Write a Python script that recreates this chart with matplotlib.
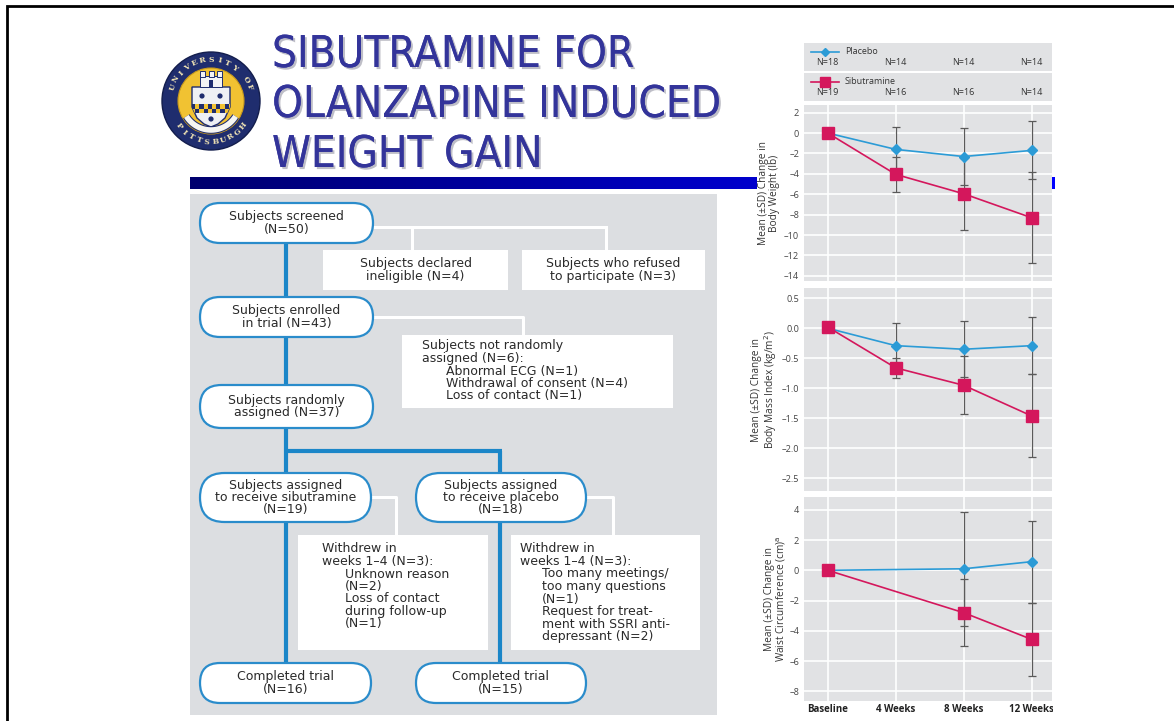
import numpy as np
import matplotlib.pyplot as plt
import matplotlib.patheffects as pe
from matplotlib import font_manager
from matplotlib.font_manager import FontProperties
from matplotlib.patches import Rectangle, FancyBboxPatch, Circle, Polygon
from matplotlib.colors import LinearSegmentedColormap
from matplotlib.transforms import Bbox

W, H = 1174, 721

# --- trial data -------------------------------------------------------------
weeks = ['Baseline', '4 Weeks', '8 Weeks', '12 Weeks']
n_placebo = [18, 14, 14, 14]
n_sibutramine = [19, 16, 16, 14]

# change in body weight (lb), mean and SD
wt_placebo = [0, -1.6, -2.3, -1.7]
wt_placebo_sd = [0, 2.15, 2.8, 2.85]
wt_sib = [0, -4.05, -5.95, -8.3]
wt_sib_sd = [0, 1.7, 3.55, 4.45]

# change in BMI (kg/m2)
bmi_placebo = [0, -0.29, -0.35, -0.29]
bmi_placebo_sd = [0, 0.37, 0.47, 0.48]
bmi_sib = [0.02, -0.66, -0.95, -1.46]
bmi_sib_sd = [0, 0.17, 0.48, 0.69]

# change in waist circumference (cm), not measured at week 4
waist_placebo = [0, np.nan, 0.1, 0.57]
waist_placebo_sd = [0, np.nan, 3.77, 2.7]
waist_sib = [0, np.nan, -2.8, -4.56]
waist_sib_sd = [0, np.nan, 2.22, 2.4]

BLUE = '#2b9bd6'
RED = '#d4175c'
PANEL = '#e1e2e4'
FLOW_BG = '#dcdee1'
FLOW_LINE = '#1b86c8'
TXT = '#2a2a2a'
FF = 'DejaVu Sans'
CF = 'Open Sans'


def narrow_font(size):
    # a condensed sans face for the heading, if one is installed
    cands = [f for f in font_manager.fontManager.ttflist
             if ('narrow' in f.name.lower() or 'condensed' in str(f.stretch).lower()
                 or 'condensed' in f.fname.lower() or 'narrow' in f.fname.lower())
             and f.style == 'normal' and f.weight in (400, 'normal', 'regular')]
    cands.sort(key=lambda f: ('Liberation' not in f.name, f.fname))
    if cands:
        return FontProperties(fname=cands[0].fname, size=size)
    return FontProperties(family='Liberation Sans', size=size * 0.81)


fig = plt.figure(figsize=(W / 100, H / 100), dpi=100)
bg = fig.add_axes([0, 0, 1, 1])
bg.set_xlim(0, W)
bg.set_ylim(H, 0)
bg.axis('off')

# slide frame
bg.plot([7, 7, W], [H, 6, 6], color='black', lw=2, solid_joinstyle='miter')

# title
title_fp = narrow_font(31.5)
title_fx = [pe.withSimplePatchShadow(offset=(1.5, -1.5), shadow_rgbFace='#8a8a99', alpha=0.55),
            pe.Normal()]
for i, line in enumerate(['SIBUTRAMINE FOR', 'OLANZAPINE INDUCED', 'WEIGHT GAIN']):
    bg.text(272, 67 + 50 * i, line, fontproperties=title_fp, color='#33349a',
            va='baseline', path_effects=title_fx)

# gradient rule under the title
grad = LinearSegmentedColormap.from_list('rule', ['#00006e', '#0000ff'])
bg.imshow(np.linspace(0, 1, 256)[None, :], cmap=grad, aspect='auto',
          extent=[190, 1055, 189, 177], zorder=1)

# university seal
cx, cy = 211, 101
bg.add_patch(Circle((cx, cy), 49, fc='#1f2d6e', ec='#131d4c', lw=1, zorder=2))
bg.add_patch(Circle((cx, cy), 33, fc='#f1c232', ec='#c99a1c', lw=0.8, zorder=2))
for ch, a in zip('UNIVERSITY OF', np.linspace(160, 20, 13)):
    t = np.radians(a)
    bg.text(cx + 41 * np.cos(t), cy - 41 * np.sin(t), ch, rotation=a - 90,
            ha='center', va='center', fontsize=5.5, fontweight='bold',
            color='#f3e6b5', family='DejaVu Serif', zorder=3)
for ch, a in zip('PITTSBURGH', np.linspace(218, 322, 10)):
    t = np.radians(a)
    bg.text(cx + 41 * np.cos(t), cy - 41 * np.sin(t), ch, rotation=a - 270,
            ha='center', va='center', fontsize=5.5, fontweight='bold',
            color='#f3e6b5', family='DejaVu Serif', zorder=3)
shield_pts = [(-19, -14), (19, -14), (19, 6), (14, 17), (7, 23), (0, 26),
              (-7, 23), (-14, 17), (-19, 6)]
shield = Polygon([(cx + dx, cy + dy) for dx, dy in shield_pts], closed=True,
                 fc='#eef0f4', ec='#1f2d6e', lw=1, zorder=3)
bg.add_patch(shield)
for row in range(2):
    for col in range(10):
        colr = '#1f2d6e' if (row + col) % 2 == 0 else '#f1c232'
        sq = Rectangle((cx - 20 + col * 4.2, cy + 3 + row * 4.5), 4.2, 4.5,
                       fc=colr, ec='none', zorder=4)
        bg.add_patch(sq)
        sq.set_clip_path(shield)
for dx, dy in [(-9, -5), (9, -5), (0, 18)]:
    bg.add_patch(Circle((cx + dx, cy + dy), 2.6, fc='#1f2d6e', zorder=5))
bg.add_patch(Rectangle((cx - 11, cy - 25), 22, 11, fc='#f4f4f4', ec='#1f2d6e', lw=0.7, zorder=4))
for dx in (-11, -2.5, 6):
    bg.add_patch(Rectangle((cx + dx, cy - 30), 5, 6, fc='#f4f4f4', ec='#1f2d6e', lw=0.7, zorder=4))
bg.add_patch(Rectangle((cx - 2, cy - 21), 4, 7, fc='#1f2d6e', zorder=5))
arc = np.radians(np.linspace(212, 328, 40))
bg.plot(cx + 29 * np.cos(arc), cy - 29 * np.sin(arc), color='#1f2d6e', lw=5.5,
        solid_capstyle='butt', zorder=4)
bg.plot(cx + 29 * np.cos(arc), cy - 29 * np.sin(arc), color='#f6f6f2', lw=4,
        solid_capstyle='butt', zorder=4)

# white ground under the graphs
bg.add_patch(Rectangle((757, 38), 1052 - 757, H - 38, fc='white', ec='none', zorder=6))

# --- flow diagram --------------------------------------------------------------
bg.add_patch(Rectangle((190, 194), 527, 521, fc=FLOW_BG, ec='none', zorder=1))


def thick(xs, ys):
    bg.plot(xs, ys, color=FLOW_LINE, lw=3, solid_capstyle='butt', zorder=2)


def thin(xs, ys):
    bg.plot(xs, ys, color='white', lw=2.2, solid_capstyle='projecting', zorder=2)


thick([286, 286], [243, 473])
thick([286, 502], [451, 451])
thick([500, 500], [451, 473])
thick([286, 286], [522, 663])
thick([500, 500], [522, 663])

thin([375, 606], [227, 227])
thin([412, 412], [227, 250])
thin([606, 606], [227, 250])
thin([375, 523, 523], [317, 317, 335])
thin([373, 396, 396], [497, 497, 535])
thin([588, 613, 613], [497, 497, 535])

FS = 9
PITCH = 12.5


def stadium(x0, y0, x1, y1, lines):
    h = y1 - y0
    bg.add_patch(FancyBboxPatch((x0 + 2, y0), x1 - x0 - 4, h,
                                boxstyle=f'round,pad=0,rounding_size={h / 2}',
                                fc='white', ec='#2a8ccb', lw=1.6, zorder=3))
    ymid = (y0 + y1) / 2 - PITCH * (len(lines) - 1) / 2
    for i, s in enumerate(lines):
        bg.text((x0 + x1) / 2, ymid + i * PITCH, s, ha='center', va='center',
                fontsize=FS, color=TXT, family=FF, zorder=4)


def note(x0, y0, x1, y1, lines, tx=None, indent=24, top=None, center=False):
    bg.add_patch(Rectangle((x0, y0), x1 - x0, y1 - y0, fc='white', ec='none', zorder=3))
    for i, (s, ind) in enumerate(lines):
        if center:
            bg.text((x0 + x1) / 2, (y0 + y1) / 2 + (i - 0.5) * PITCH, s, ha='center',
                    va='center', fontsize=FS, color=TXT, family=FF, zorder=4)
        else:
            bg.text(tx + (indent if ind else 0), top + i * PITCH, s, ha='left',
                    va='center', fontsize=FS, color=TXT, family=FF, zorder=4)


stadium(198, 203, 375, 243, ['Subjects screened', '(N=50)'])
note(323, 250, 508, 290, [('Subjects declared', 0), ('ineligible (N=4)', 0)], center=True)
note(522, 250, 705, 290, [('Subjects who refused', 0), ('to participate (N=3)', 0)], center=True)
stadium(198, 297, 375, 337, ['Subjects enrolled', 'in trial (N=43)'])
note(402, 335, 673, 408,
     [('Subjects not randomly', 0), ('assigned (N=6):', 0), ('Abnormal ECG (N=1)', 1),
      ('Withdrawal of consent (N=4)', 1), ('Loss of contact (N=1)', 1)],
     tx=422, top=346)
stadium(198, 385, 375, 428, ['Subjects randomly', 'assigned (N=37)'])
stadium(198, 473, 373, 522, ['Subjects assigned', 'to receive sibutramine', '(N=19)'])
stadium(414, 473, 588, 522, ['Subjects assigned', 'to receive placebo', '(N=18)'])
note(298, 535, 488, 650,
     [('Withdrew in', 0), ('weeks 1\u20134 (N=3):', 0), ('Unknown reason', 1), ('(N=2)', 1),
      ('Loss of contact', 1), ('during follow-up', 1), ('(N=1)', 1)],
     tx=322, indent=23, top=549)
note(511, 535, 700, 650,
     [('Withdrew in', 0), ('weeks 1\u20134 (N=3):', 0), ('Too many meetings/', 1),
      ('too many questions', 1), ('(N=1)', 1), ('Request for treat-', 1),
      ('ment with SSRI anti-', 1), ('depressant (N=2)', 1)],
     tx=520, indent=22, top=549)
stadium(198, 663, 373, 703, ['Completed trial', '(N=16)'])
stadium(414, 663, 588, 703, ['Completed trial', '(N=15)'])

# --- outcome graphs -----------------------------------------------------------
X0, X1 = 804, 1052
x = np.arange(len(weeks))


def px_axes(y0, y1):
    return fig.add_axes([X0 / W, 1 - y1 / H, (X1 - X0) / W, (y1 - y0) / H])


# legend strip with group sizes
lg = px_axes(43, 101)
lg.set_xlim(-0.35, 3.3)
lg.set_ylim(101, 43)
lg.axis('off')
lg.axhspan(43, 71, color=PANEL, lw=0)
lg.axhspan(72.5, 101, color=PANEL, lw=0)
tr = lg.get_yaxis_transform()
for yy, name, col, mk, ms, ns in [(52, 'Placebo', BLUE, 'D', 4.5, n_placebo),
                                  (82, 'Sibutramine', RED, 's', 7, n_sibutramine)]:
    lg.plot([0.03, 0.14], [yy, yy], color=col, lw=1.2, transform=tr)
    lg.plot([0.085], [yy], marker=mk, ms=ms, color=col, transform=tr)
    lg.text(0.165, yy, name, transform=tr, va='center', fontsize=6.5, color='#333', family=CF)
    for i, n in enumerate(ns):
        lg.text(i, yy + 10.5, f'N={n}', ha='center', va='center', fontsize=6.5,
                color='#333', family=CF)


def panel(y0, y1, ylim, yticks, fmt, label, label_x, placebo, placebo_sd, sib, sib_sd,
          last=False):
    ax = px_axes(y0, y1)
    ax.set_facecolor(PANEL)
    ax.set_xlim(-0.35, 3.3)
    ax.set_ylim(*ylim)
    ax.set_xticks(x)
    ax.set_yticks(yticks)
    ax.set_yticklabels([fmt.format(v).replace('-', '\u2013') for v in yticks])
    ax.grid(True, color='white', lw=1.2)
    ax.set_axisbelow(True)
    for s in ax.spines.values():
        s.set_visible(False)
    ax.tick_params(length=0, labelsize=6.6, labelcolor='#444', pad=3.5)
    for t in ax.get_yticklabels():
        t.set_family(CF)
    if last:
        ax.set_xticklabels(weeks, fontsize=7, fontweight='bold', color='#222', family=CF)
        ax.tick_params(axis='x', pad=2.5)
        for t in ax.get_xticklabels():
            t.set_clip_on(True)
            t.set_clip_box(Bbox.from_extents(0, 0, X1 + 1, H))
    else:
        ax.tick_params(axis='x', labelbottom=False)
    ax.set_ylabel(label, fontsize=7.3, color='#333', family=CF, linespacing=0.98)
    ax.yaxis.set_label_coords((label_x - X0) / (X1 - X0), 0.5)

    p = np.array(placebo, float)
    ps = np.array(placebo_sd, float)
    r = np.array(sib, float)
    rs = np.array(sib_sd, float)
    okp = ~np.isnan(p)
    okr = ~np.isnan(r)
    ep = okp & (np.nan_to_num(ps) > 0)
    er = okr & (np.nan_to_num(rs) > 0)
    ax.errorbar(x[ep], p[ep], yerr=ps[ep], fmt='none', ecolor='#5a5a5a', elinewidth=0.9,
                capsize=3, capthick=0.9, zorder=2)
    ax.errorbar(x[er], r[er], yerr=rs[er], fmt='none', ecolor='#5a5a5a', elinewidth=0.9,
                capsize=3, capthick=0.9, zorder=2)
    ax.plot(x[okp], p[okp], color=BLUE, lw=1.2, marker='D', ms=5, zorder=3)
    ax.plot(x[okr], r[okr], color=RED, lw=1.2, marker='s', ms=8.5, zorder=4)
    return ax


panel(105, 281, (-14.5, 2.75), np.arange(-14, 3, 2), '{:d}',
      'Mean (\u00b1SD) Change in\nBody Weight (lb)', 780,
      wt_placebo, wt_placebo_sd, wt_sib, wt_sib_sd)
panel(288, 491, (-2.71, 0.67), np.arange(-2.5, 0.51, 0.5), '{:.1f}',
      'Mean (\u00b1SD) Change in\nBody Mass Index (kg/m$^2$)', 779,
      bmi_placebo, bmi_placebo_sd, bmi_sib, bmi_sib_sd)
panel(497, 701, (-8.63, 4.84), np.arange(-8, 5, 2), '{:d}',
      'Mean (\u00b1SD) Change in\nWaist Circumference (cm)$^\\mathrm{a}$', 788,
      waist_placebo, waist_placebo_sd, waist_sib, waist_sib_sd, last=True)

fig.savefig('out.png', dpi=100)
